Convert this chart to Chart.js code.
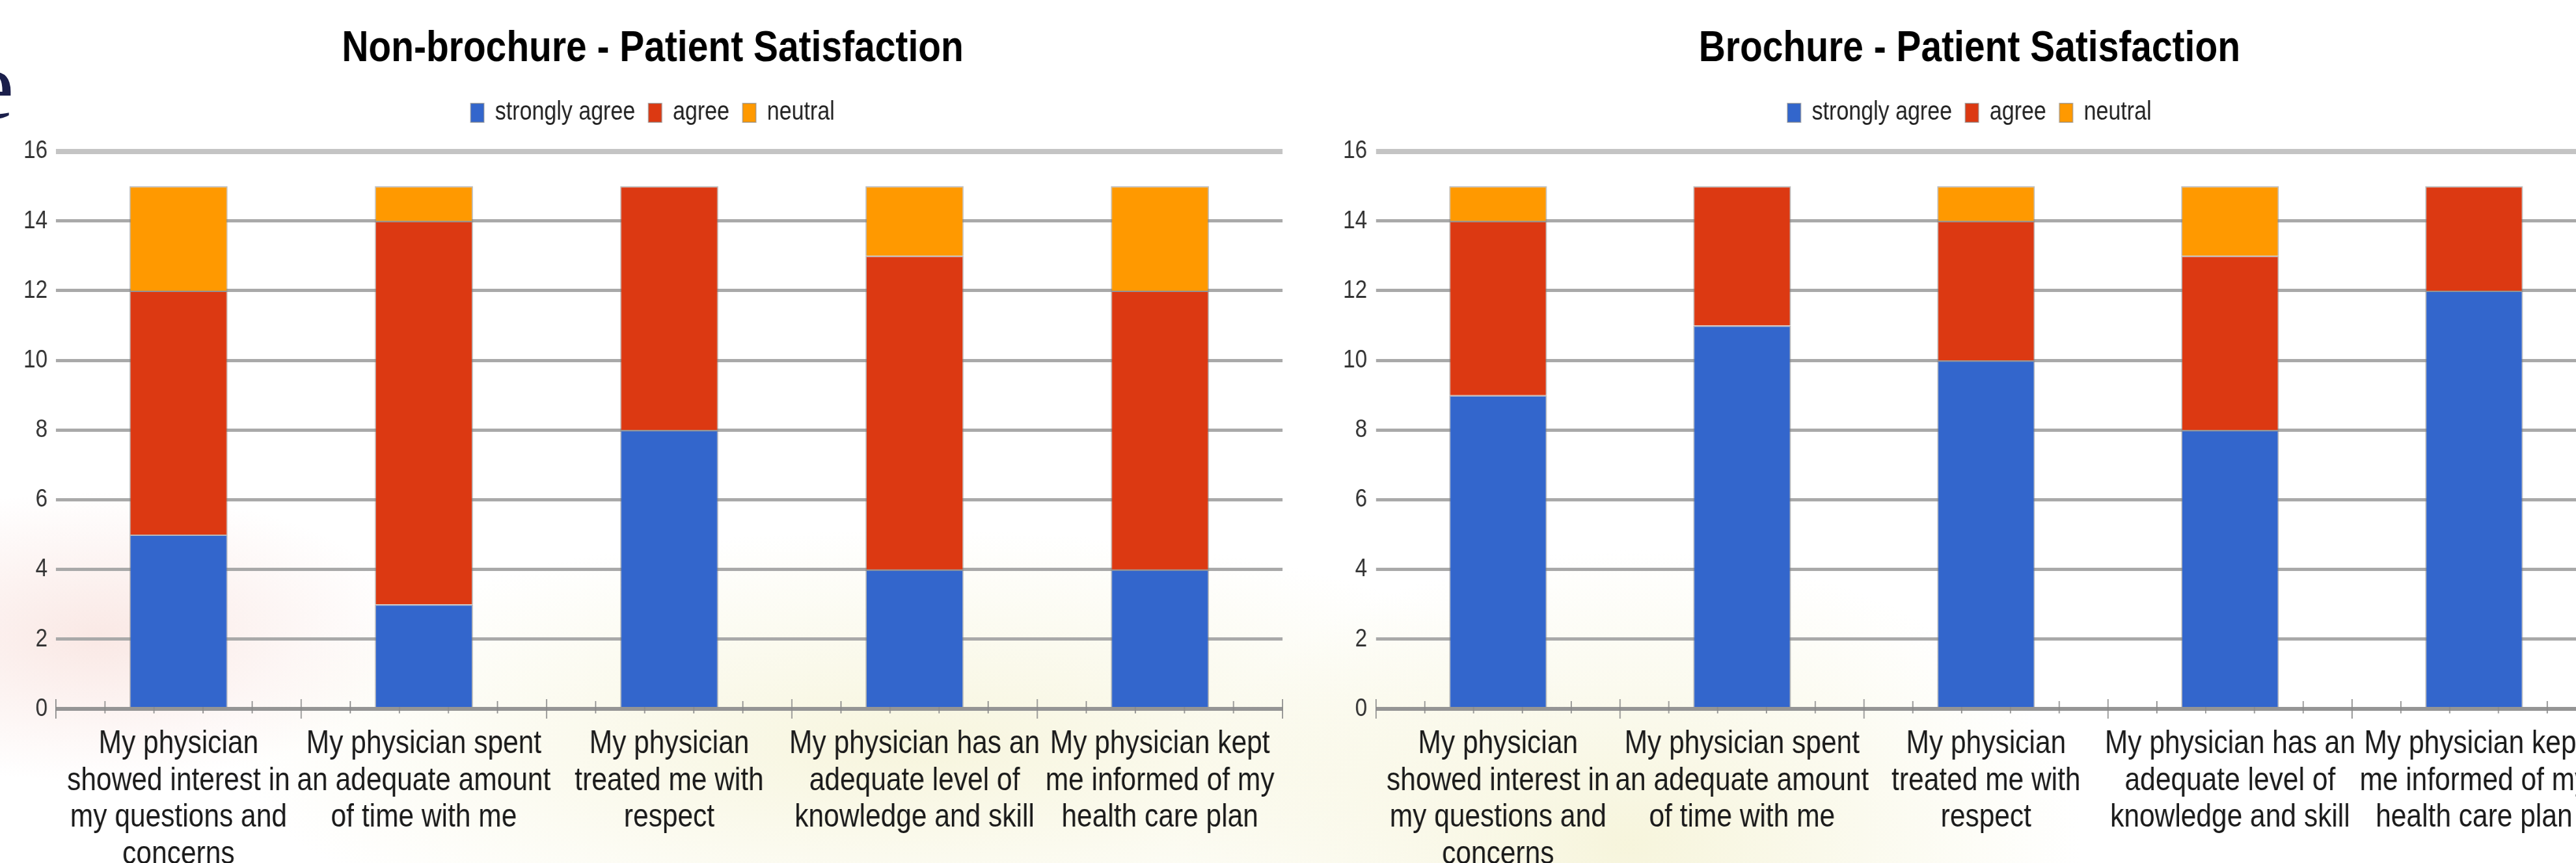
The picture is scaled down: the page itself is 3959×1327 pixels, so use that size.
<!DOCTYPE html>
<html>
<head>
<meta charset="utf-8">
<title>Patient Satisfaction</title>
<script src="https://cdn.jsdelivr.net/npm/chart.js@4.4.1/dist/chart.umd.min.js"></script>
<style>
  html, body { margin: 0; padding: 0; }
  body {
    width: 3959px;
    height: 1327px;
    overflow: hidden;
    position: relative;
    background:
      radial-gradient(ellipse 700px 320px at 150px 980px, rgba(240, 190, 180, 0.35), rgba(255, 255, 255, 0) 70%),
      radial-gradient(ellipse 1500px 480px at 1400px 1150px, rgba(246, 244, 218, 0.9), rgba(255, 255, 255, 0) 70%),
      radial-gradient(ellipse 1000px 650px at 2500px 1300px, rgba(246, 244, 218, 0.95), rgba(255, 255, 255, 0) 70%),
      #ffffff;
  }
  .slide-e {
    position: absolute;
    left: -45px;
    top: 56px;
    font: 150px/1 "Liberation Serif", serif;
    color: #1b1f4b;
  }
  /* the source picture is squeezed sideways, so draw wide and squeeze */
  .chart-box {
    position: absolute;
    top: 0;
    height: 1327px;
    transform: scaleX(0.85);
    transform-origin: 0 0;
  }
  #leftBox { left: 0; width: 2365px; }
  #rightBox { left: 2000px; width: 2447px; }
</style>
</head>
<body>
<div class="slide-e">e</div>
<div id="leftBox" class="chart-box"><canvas id="nonBrochure"></canvas></div>
<div id="rightBox" class="chart-box"><canvas id="brochure"></canvas></div>
<script>
// questions on the x axis (already split in lines)
const questions = [
    ['My physician', 'showed interest in', 'my questions and', 'concerns'],
    ['My physician spent', 'an adequate amount', 'of time with me'],
    ['My physician', 'treated me with', 'respect'],
    ['My physician has an', 'adequate level of', 'knowledge and skill'],
    ['My physician kept', 'me informed of my', 'health care plan']
];

const seriesNames = ['strongly agree', 'agree', 'neutral'];
const seriesColors = ['#3366cc', '#dc3912', '#ff9900'];

// Non-brochure group
const nonBrochureStronglyAgree = [5, 3, 8, 4, 4];
const nonBrochureAgree = [7, 11, 7, 9, 8];
const nonBrochureNeutral = [3, 1, 0, 2, 3];

// Brochure group
const brochureStronglyAgree = [9, 11, 10, 8, 12];
const brochureAgree = [5, 4, 4, 5, 3];
const brochureNeutral = [1, 0, 1, 2, 0];

const yMin = 0;
const yMax = 16;
const yStep = 2;

Chart.defaults.font.family = '"Liberation Sans", Arial, sans-serif';

// major and minor tick marks along the x axis, under the bars
const axisTicks = {
    id: 'axisTicks',
    beforeDatasetsDraw(chart) {
        const x = chart.scales.x;
        const y = chart.scales.y;
        const ctx = chart.ctx;
        const y0 = y.getPixelForValue(0);
        const count = questions.length;

        ctx.save();
        ctx.strokeStyle = '#8a8a8a';
        ctx.lineWidth = 2;
        for (let i = 0; i <= count; i++) {
            for (let k = 0; k < 5; k++) {
                if (i == count && k > 0) break;
                const px = x.getPixelForValue(i - 0.5 + k * 0.2);
                const up = k == 0 ? 15 : 12;
                const down = k == 0 ? 15 : 7;
                ctx.beginPath();
                ctx.moveTo(px, y0 - up);
                ctx.lineTo(px, y0 + down);
                ctx.stroke();
            }
        }
        ctx.restore();
    }
};

function getDatasets(values) {
    var sets = [];
    for (let index = 0; index < seriesNames.length; index++) {
        sets.push({
            label: seriesNames[index],
            data: values[index],
            backgroundColor: seriesColors[index],
            borderColor: 'rgba(130, 130, 130, 0.55)',
            borderWidth: 2,
            borderSkipped: 'bottom',
            barPercentage: 0.5,
            categoryPercentage: 0.8
        });
    }
    return sets;
}

function gridColor(context) {
    if (context.tick.value == yMax) return '#c4c4c4';
    if (context.tick.value == yMin) return '#959595';
    return '#a9a9a9';
}

function gridWidth(context) {
    if (context.tick.value == yMax) return 8;
    if (context.tick.value == yMin) return 6;
    return 5;
}

function showGraph(canvasId, title, values, padLeft, yAxisWidth, tickPadding, padRight) {
    const config = {
        type: 'bar',
        data: {
            labels: questions,
            datasets: getDatasets(values)
        },
        options: {
            responsive: true,
            maintainAspectRatio: false,
            devicePixelRatio: 1,
            animation: false,
            layout: {
                padding: { top: 0, left: padLeft, right: padRight, bottom: 0 }
            },
            plugins: {
                title: {
                    display: true,
                    text: title,
                    color: '#000000',
                    font: { size: 67, weight: 'bold' },
                    padding: { top: 35, bottom: 14 }
                },
                // empty subtitle only keeps a gap between legend and plot
                subtitle: {
                    display: true,
                    text: '',
                    weight: 500,
                    font: { size: 1 },
                    padding: { top: 0, bottom: 28 }
                },
                legend: {
                    display: true,
                    labels: {
                        color: '#222222',
                        font: { size: 40 },
                        boxWidth: 24,
                        boxHeight: 29,
                        padding: 24
                    }
                },
                tooltip: { enabled: false }
            },
            scales: {
                x: {
                    stacked: true,
                    grid: { display: false },
                    border: { display: false },
                    ticks: {
                        color: '#1a1a1a',
                        font: { size: 50, lineHeight: 1.13 },
                        padding: 18,
                        maxRotation: 0,
                        autoSkip: false
                    },
                    afterFit: (scale) => { scale.height = 237; }
                },
                y: {
                    stacked: true,
                    min: yMin,
                    max: yMax,
                    border: { display: false },
                    grid: {
                        color: gridColor,
                        lineWidth: gridWidth,
                        drawTicks: false
                    },
                    ticks: {
                        stepSize: yStep,
                        color: '#333333',
                        font: { size: 39 },
                        padding: tickPadding
                    },
                    afterFit: (scale) => { scale.width = yAxisWidth; }
                }
            }
        },
        plugins: [axisTicks]
    };

    new Chart(document.getElementById(canvasId), config);
}

showGraph('nonBrochure', 'Non-brochure - Patient Satisfaction',
    [nonBrochureStronglyAgree, nonBrochureAgree, nonBrochureNeutral], 41, 60, 15, 46);
showGraph('brochure', 'Brochure - Patient Satisfaction',
    [brochureStronglyAgree, brochureAgree, brochureNeutral], 75, 60, 16, 106);
</script>
</body>
</html>
